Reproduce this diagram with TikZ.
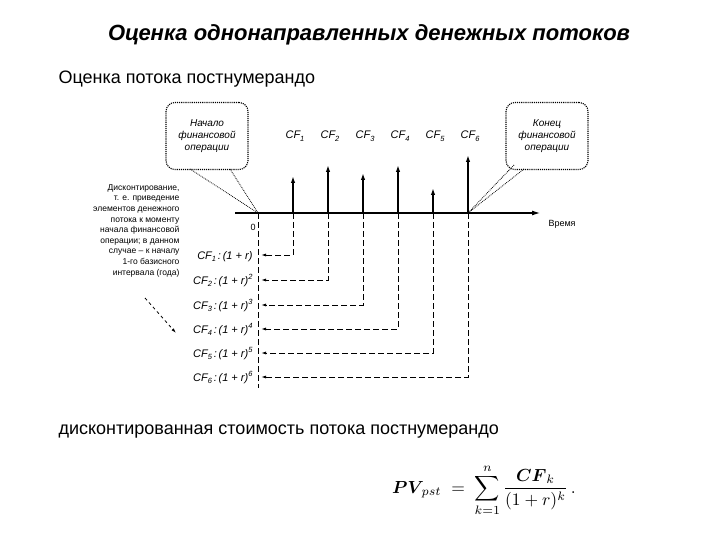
\documentclass[tikz,border=0pt]{standalone}
\usepackage{amsmath}
\usepackage{graphicx}
\usepackage[no-math]{fontspec}
\setmainfont{Liberation Sans}
\usetikzlibrary{arrows.meta}
\newcommand{\sbx}[1]{\raisebox{-0.35ex}{\fontsize{7.5}{8}\selectfont #1}}
\newcommand{\spx}[1]{\raisebox{0.8ex}{\fontsize{7.5}{8}\selectfont #1}}
\begin{document}
\begin{tikzpicture}[x=1pt,y=-1pt,
  cf/.style={font=\fontsize{11}{12}\selectfont\itshape},
  small/.style={font=\fontsize{9}{10}\selectfont},
  up/.style={-{Latex[length=7pt,width=4.5pt]},line width=1.4pt},
  back/.style={dash pattern=on 6pt off 3pt,-{Latex[length=5pt,width=3pt]},line width=0.9pt},
  bubble/.style={draw,densely dotted,line width=1.1pt,rounded corners=9pt,minimum width=82pt,minimum height=67pt,align=center,font=\fontsize{10}{12}\selectfont\itshape}]
\useasboundingbox (0,0) rectangle (720,540);
\node[font=\fontsize{22}{26}\selectfont\bfseries\itshape] (title) at (369,35) {Оценка однонаправленных денежных потоков};
\node[anchor=west,font=\fontsize{18}{21}\selectfont] (sub1) at (55,79) {Оценка потока постнумерандо};
\node[anchor=west,font=\fontsize{18}{21}\selectfont] (sub2) at (55,432) {дисконтированная стоимость потока постнумерандо};
% axis
\coordinate (a0) at (235,213);
\coordinate (a1) at (540,213);
\draw[-{Latex[length=8pt,width=5pt]},line width=1.1pt] (a0) -- (a1);
\node[small,anchor=west] (time) at (545,224) {Время};
\coordinate (z) at (258,213);
\node[small] (zero) at (253,227) {0};
\draw[dash pattern=on 6pt off 3pt,line width=0.9pt] (z) -- (258,388);
\foreach \i/\x/\t/\yy in {1/293/176/255,2/328/165/280,3/363/173/305,4/398/165/329,5/433/188/353,6/468/155/377}{
  \coordinate (b\i) at (\x,213);
  \coordinate (t\i) at (\x,\t);
  \draw[up] (b\i) -- (t\i);
  \node[cf,anchor=base] (cf\i) at (\x+2,139) {CF\sbx{\i}};
  \coordinate (c\i) at (\x,\yy);
  \coordinate (e\i) at (261,\yy);
  \draw[back] (t\i |- z) -- (c\i) -- (e\i);
  \node[cf,anchor=base east] (l\i) at (256,\yy+4) {CF\sbx{\i}\,:\,(1 + \textit{r})\ifnum\i>1\spx{\i}\fi};
}
\node[bubble] (nb) at (207,136) {Начало\\финансовой\\операции};
\node[bubble] (kb) at (547,136) {Конец\\финансовой\\операции};
\draw[densely dotted,line width=0.8pt] (190,169) -- (z);
\draw[densely dotted,line width=0.8pt] (230,169) -- (z);
\draw[densely dotted,line width=0.8pt] (514,165) -- (b6);
\draw[densely dotted,line width=0.8pt] (524,169) -- (b6);
\node[align=right,anchor=north east,font=\fontsize{8.5}{10.6}\selectfont] (disc) at (183,181)
 {Дисконтирование,\\т. е. приведение\\элементов денежного\\потока к моменту\\начала финансовой\\операции; в данном\\случае -- к началу\\1-го базисного\\интервала (года)};
\coordinate (d1) at (145,298);
\coordinate (d2) at (176,333);
\draw[dashed,-{Latex[length=5pt,width=3pt]},line width=0.8pt] (d1) -- (d2);
\node[font=\fontsize{10}{12}\selectfont] (pv) at (484,490)
 {\scalebox{1.75}{$\displaystyle \boldsymbol{PV}_{\!pst} \;=\; \sum_{k=1}^{n}\frac{\boldsymbol{CF}_k}{(1+r)^k}\,.$}};
\end{tikzpicture}
\end{document}
